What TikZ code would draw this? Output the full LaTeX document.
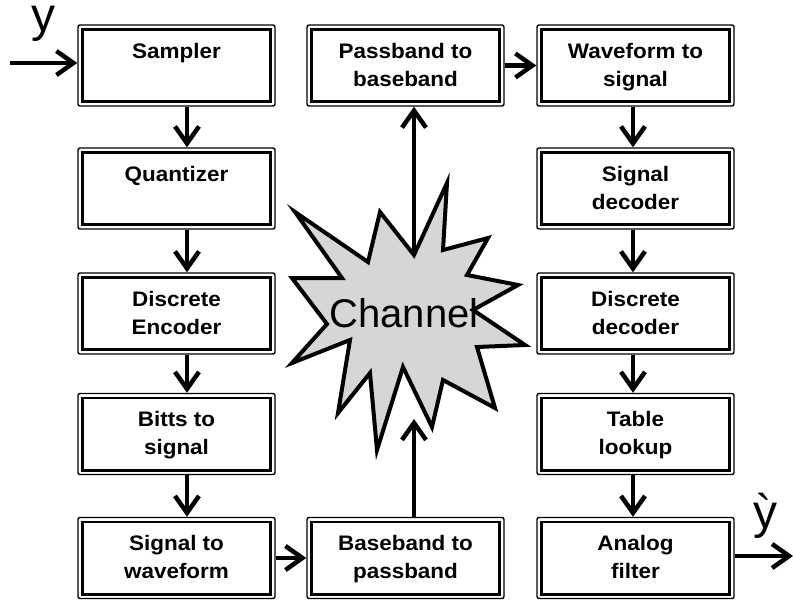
\documentclass[tikz,border=0pt]{standalone}
\usepackage{fontspec}
\setmainfont{Liberation Sans}
\newfontfamily\boxfont{Liberation Sans}[FakeStretch=1.07]
\usetikzlibrary{arrows.meta}
\definecolor{burst}{HTML}{D5D6D8}

\begin{document}
\begin{tikzpicture}[x=1pt,y=-1pt,
  blk/.style={draw, line width=1.4pt, rounded corners=2pt,
    minimum width=197pt, minimum height=81pt, inner sep=0pt},
  blocktext/.style={anchor=north, inner sep=0pt, align=center, yshift=-18.5pt,
    font=\boxfont\bfseries\fontsize{21}{28}\selectfont},
  flow/.style={line width=4.5pt, -{Straight Barb[length=17pt,width=24pt]}},
  inner/.style={line width=2.6pt},
  big/.style={inner sep=0pt, anchor=base, font=\fontsize{48}{52}\selectfont},
]
\useasboundingbox (0,0) rectangle (793,602);

% transmitter column
\node[blk] (samp) at (176.5,65.5) {};
\node[blk] (quan) at (176.5,188.5) {};
\node[blk] (denc) at (176.5,313.5) {};
\node[blk] (bits) at (176.5,434) {};
\node[blk] (sigw) at (176.5,558) {};
% passband conversion
\node[blk] (pbbb) at (405.5,65.5) {};
\node[blk] (bbpb) at (405.5,558) {};
% receiver column
\node[blk] (wfs)  at (635.5,65.5) {};
\node[blk] (sdec) at (635.5,188.5) {};
\node[blk] (ddec) at (635.5,313.5) {};
\node[blk] (tabl) at (635.5,434) {};
\node[blk] (filt) at (635.5,558) {};

% inner border of each block
\foreach \n in {samp,quan,denc,bits,sigw,pbbb,bbpb,wfs,sdec,ddec,tabl,filt}
  \draw[inner] ([shift={(5,-5)}]\n.south west) rectangle ([shift={(-5,5)}]\n.north east);

% block captions
\node[blocktext] at (samp.north) {Sampler};
\node[blocktext] at (quan.north) {Quantizer};
\node[blocktext] at (denc.north) {Discrete\\Encoder};
\node[blocktext] at (bits.north) {Bitts to\\signal};
\node[blocktext] at (sigw.north) {Signal to\\waveform};
\node[blocktext] at (pbbb.north) {Passband to\\baseband};
\node[blocktext] at (bbpb.north) {Baseband to\\passband};
\node[blocktext] at (wfs.north)  {Waveform to\\signal};
\node[blocktext] at (sdec.north) {Signal\\decoder};
\node[blocktext] at (ddec.north) {Discrete\\decoder};
\node[blocktext] at (tabl.north) {Table\\lookup};
\node[blocktext] at (filt.north) {Analog\\filter};

% channel burst
\draw[fill=burst, line width=4pt, line join=miter]
  (295,212) -- (368,262) -- (380,212) -- (414,255) -- (447,183) -- (443,250)
  -- (488,238) -- (467,275) -- (518,285) -- (473,310) -- (525,345) -- (477,347)
  -- (495,408) -- (443,380) -- (432,427) -- (403,367) -- (377,450) -- (370,373)
  -- (338,413) -- (350,340) -- (292,363) -- (327,324) -- (292,278) -- (342,278)
  -- cycle;
\node[inner sep=0pt, font=\fontsize{40}{48}\selectfont] (chan) at (404,313) {Channel};
\coordinate (chtop) at (414,255);
\coordinate (chbot) at (414,419);

% signal flow
\draw[flow] ([xshift=10.5pt]samp.south) -- ([xshift=10.5pt]quan.north);
\draw[flow] ([xshift=10.5pt]quan.south) -- ([xshift=10.5pt]denc.north);
\draw[flow] ([xshift=10.5pt]denc.south) -- ([xshift=10.5pt]bits.north);
\draw[flow] ([xshift=10.5pt]bits.south) -- ([xshift=10.5pt]sigw.north);
\draw[flow] (sigw.east) -- (bbpb.west);
\draw[flow] ([xshift=8.5pt]bbpb.north) -- (chbot);
\draw[flow] (chtop) -- ([xshift=8.5pt]pbbb.south);
\draw[flow] (pbbb.east) -- (wfs.west);
\draw[flow] ([xshift=-2.5pt]wfs.south) -- ([xshift=-2.5pt]sdec.north);
\draw[flow] ([xshift=-2.5pt]sdec.south) -- ([xshift=-2.5pt]ddec.north);
\draw[flow] ([xshift=-2.5pt]ddec.south) -- ([xshift=-2.5pt]tabl.north);
\draw[flow] ([xshift=-2.5pt]tabl.south) -- ([xshift=-2.5pt]filt.north);

% input and output
\coordinate (yin) at (10,63);
\coordinate (yout) at (793,556);
\draw[flow] (yin) -- (yin -| samp.west);
\draw[flow] (yout -| filt.east) -- (yout);
\node[big] (ylab) at (43.5,32) {y};
\node[big] (yhat) at (765,528) {ỳ};
\end{tikzpicture}
\end{document}
